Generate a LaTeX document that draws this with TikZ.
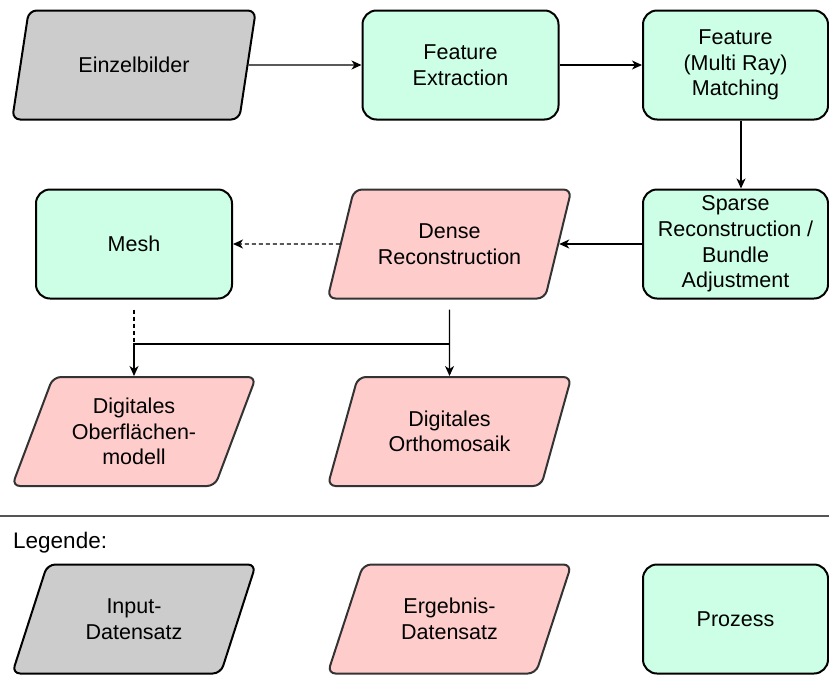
\documentclass[tikz,border=0pt]{standalone}
\usepackage{fontspec}
\setmainfont{Liberation Sans}
\usetikzlibrary{shapes.geometric,arrows.meta}

\definecolor{inputgray}{HTML}{CCCCCC}
\definecolor{resultpink}{HTML}{FFCCCC}
\definecolor{procgreen}{HTML}{CCFFE6}
\definecolor{darkedge}{HTML}{333333}
\definecolor{ruleline}{HTML}{555555}

\tikzset{
  lbl/.style={font=\fontsize{21.5}{25.6}\selectfont, align=center, text=black},
  para/.style={lbl, shape=trapezium, trapezium left angle=65.4,
    trapezium right angle=114.6, trapezium stretches=true,
    minimum width=244pt, minimum height=109pt, inner sep=2pt,
    rounded corners=8pt, line width=2pt},
  inp/.style={para, draw=black, fill=inputgray},
  res/.style={para, draw=darkedge, fill=resultpink},
  proc/.style={lbl, shape=rectangle, draw=black, fill=procgreen,
    minimum width=196pt, minimum height=109pt, inner sep=2pt,
    rounded corners=14pt, line width=2pt},
  arr/.style={line width=1.1pt, -{Stealth[length=10pt,width=9pt,inset=3pt]}},
  link/.style={line width=1.1pt},
}

\begin{document}
\begin{tikzpicture}[x=1pt, y=-1pt]
  \useasboundingbox (0,0) rectangle (829,675);

  % processing chain
  \node[inp]  (einzel) at (134,65)      {Einzelbilder};
  \node[proc] (fext)   at (460.5,65)    {Feature\\Extraction};
  \node[proc, minimum width=185pt] (match)  at (735.5,65)  {Feature\\(Multi Ray)\\Matching};
  \node[proc, minimum width=185pt] (sparse) at (735.5,244) {Sparse\\Reconstruction /\\Bundle\\Adjustment};
  \node[res]  (dense)  at (449.5,244)   {Dense\\Reconstruction};
  \node[proc] (mesh)   at (134,244)     {Mesh};
  \node[res]  (dom)    at (134,431.5)   {Digitales\\Oberflächen-\\modell};
  \node[res]  (dop)    at (449.5,431.5) {Digitales\\Orthomosaik};

  \coordinate (split) at (449.5,344);

  \draw[arr] (einzel) -- (fext);
  \draw[arr] (fext) -- (match);
  \draw[arr] ([xshift=5.5pt]match.south) -- ([xshift=5.5pt]sparse.north);
  \draw[arr] (sparse) -- (dense);
  \draw[arr, dashed, dash pattern=on 4pt off 3pt] (dense) -- (mesh);
  \draw[arr] ([yshift=-10pt]dense.south) -- (dop.north);
  \draw[arr] (split) -| (dom.north);
  \draw[link, dash pattern=on 4pt off 3pt] ([yshift=-10pt]mesh.south) -- (mesh.south |- split);

  % legend
  \coordinate (sepL) at (0,516);
  \coordinate (sepR) at (829,516);
  \draw[line width=1.2pt, ruleline] (sepL) -- (sepR);
  \node[lbl, font=\fontsize{22.5}{27}\selectfont, anchor=base west, inner sep=0pt] (legtitle) at (13,548) {Legende:};

  \node[inp]  (legin)   at (134,619)   {Input-\\Datensatz};
  \node[res]  (legres)  at (449.5,619) {Ergebnis-\\Datensatz};
  \node[proc, minimum width=185pt] (legproc) at (735.5,619) {Prozess};
\end{tikzpicture}
\end{document}
